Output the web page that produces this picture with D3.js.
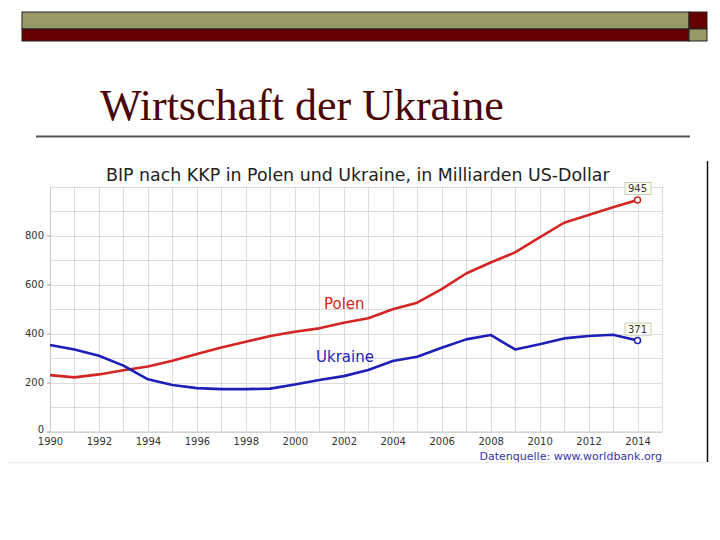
<!DOCTYPE html>
<html><head><meta charset="utf-8">
<script src="https://cdn.jsdelivr.net/npm/d3@7"></script>
<style>html,body{margin:0;padding:0;background:#fff;}svg{display:block;}</style>
</head><body>
<svg id="c" width="720" height="540"></svg>
<script>
const years = d3.range(1990, 2015);
const polen = [230, 221, 233, 250, 265, 289, 316, 343, 366, 390, 407, 421, 444, 462, 499, 526, 581, 645, 690, 731, 792, 852, 884, 915, 945];
const ukraine = [353, 335, 309, 269, 213, 190, 177, 173, 173, 175, 192, 210, 226, 251, 288, 305, 342, 376, 394, 335, 356, 380, 390, 395, 371];
const yTicks = [0, 200, 400, 600, 800];
const xTicks = [1990, 1992, 1994, 1996, 1998, 2000, 2002, 2004, 2006, 2008, 2010, 2012, 2014];
const slideTitle = "Wirtschaft der Ukraine";
const chartTitle = "BIP nach KKP in Polen und Ukraine, in Milliarden US-Dollar";
const source = "Datenquelle: www.worldbank.org";

const svg = d3.select("#c");
const OLIVE = "#999966", DRED = "#660000";

// slide decoration
svg.append("rect").attr("x", 22).attr("y", 12).attr("width", 667).attr("height", 17).attr("fill", OLIVE).attr("stroke", "#222").attr("stroke-width", 1);
svg.append("rect").attr("x", 22).attr("y", 29).attr("width", 667).attr("height", 12).attr("fill", DRED).attr("stroke", "#222").attr("stroke-width", 1);
svg.append("rect").attr("x", 689).attr("y", 12).attr("width", 18).attr("height", 17).attr("fill", DRED).attr("stroke", "#222").attr("stroke-width", 1);
svg.append("rect").attr("x", 689).attr("y", 29).attr("width", 18).attr("height", 12).attr("fill", OLIVE).attr("stroke", "#222").attr("stroke-width", 1);

svg.append("text").attr("x", 100).attr("y", 120).attr("font-family", "Liberation Serif, Times New Roman, serif")
  .attr("font-size", 44).attr("fill", "#4a0505").text(slideTitle);
svg.append("line").attr("x1", 36).attr("x2", 690).attr("y1", 136.5).attr("y2", 136.5).attr("stroke", "#555").attr("stroke-width", 2);

// embedded chart image frame
svg.append("line").attr("x1", 707.5).attr("x2", 707.5).attr("y1", 161).attr("y2", 462).attr("stroke", "#111").attr("stroke-width", 1.5);
svg.append("line").attr("x1", 8).attr("x2", 707).attr("y1", 462.5).attr("y2", 462.5).attr("stroke", "#eee").attr("stroke-width", 1);

const x = d3.scaleLinear().domain([1990, 2015]).range([50, 662]);
const y = d3.scaleLinear().domain([0, 1000]).range([431.5, 186.5]);
const F = "DejaVu Sans, Verdana, sans-serif";

const g = svg.append("g");
// grid
g.selectAll("line.vg").data(d3.range(1990, 2016)).join("line")
  .attr("x1", d => Math.round(x(d)) + 0.5).attr("x2", d => Math.round(x(d)) + 0.5)
  .attr("y1", y(0)).attr("y2", y(1000)).attr("stroke", "#dcdcdc").attr("stroke-width", 1);
g.selectAll("line.hg").data(d3.range(0, 1001, 100)).join("line")
  .attr("x1", x(1990)).attr("x2", x(2015))
  .attr("y1", d => Math.round(y(d)) + 0.5).attr("y2", d => Math.round(y(d)) + 0.5)
  .attr("stroke", "#dcdcdc").attr("stroke-width", 1);

// axes
const yAxis = d3.axisLeft(y).tickValues(yTicks).tickSizeInner(3).tickSizeOuter(0).tickFormat(d3.format("d"));
const ya = svg.append("g").attr("transform", `translate(${x(1990)},0)`).call(yAxis);
ya.select(".domain").attr("stroke", "#c8c8c8");
ya.selectAll(".tick line").attr("stroke", "#999");
ya.selectAll("text").attr("font-family", F).attr("font-size", 10).attr("fill", "#333").attr("x", -6)
  .attr("dy", d => d === 0 ? "0.1em" : "0.32em");

const xAxis = d3.axisBottom(x).tickValues(xTicks).tickSize(0).tickFormat(d3.format("d"));
const xa = svg.append("g").attr("transform", `translate(0,${y(0)})`).call(xAxis);
xa.select(".domain").attr("stroke", "#c8c8c8");
xa.selectAll("text").attr("font-family", F).attr("font-size", 10).attr("fill", "#333").attr("dy", null).attr("y", 13.5);

// title
svg.append("text").attr("x", 106).attr("y", 181).attr("font-family", F).attr("font-size", 17.4).attr("fill", "#222").text(chartTitle);

// lines
const line = d3.line().x((d, i) => x(years[i])).y(d => y(d));
const RED = "#d42424", BLUE = "#1e1eb9";
svg.append("path").datum(polen).attr("d", line).attr("fill", "none").attr("stroke", RED).attr("stroke-width", 2.6).attr("stroke-linejoin", "round");
svg.append("path").datum(ukraine).attr("d", line).attr("fill", "none").attr("stroke", BLUE).attr("stroke-width", 2.6).attr("stroke-linejoin", "round");

// labels
svg.append("text").attr("x", 324).attr("y", 308.5).attr("font-family", F).attr("font-size", 15).attr("fill", RED).text("Polen");
svg.append("text").attr("x", 316).attr("y", 362).attr("font-family", F).attr("font-size", 15).attr("fill", BLUE).text("Ukraine");

// end markers and value boxes
function endMark(vals, col) {
  const last = vals[vals.length - 1], yr = years[years.length - 1];
  const cx = x(yr), cy = y(last);
  svg.append("circle").attr("cx", cx).attr("cy", cy).attr("r", 3).attr("fill", "#fff").attr("stroke", col).attr("stroke-width", 1.5);
  const bx = cx - 13, by = cy - 18;
  svg.append("rect").attr("x", bx + 0.5).attr("y", by + 0.5).attr("width", 26).attr("height", 12).attr("fill", "#fffff0").attr("stroke", "#c8c8b4").attr("stroke-width", 1);
  svg.append("text").attr("x", cx).attr("y", by + 10).attr("text-anchor", "middle").attr("font-family", F).attr("font-size", 10).attr("fill", "#333").text(d3.format("d")(last));
}
endMark(polen, RED);
endMark(ukraine, BLUE);

svg.append("text").attr("x", 662).attr("y", 460).attr("text-anchor", "end").attr("font-family", F).attr("font-size", 11).attr("fill", "#3535a8").text(source);
</script>
</body></html>
